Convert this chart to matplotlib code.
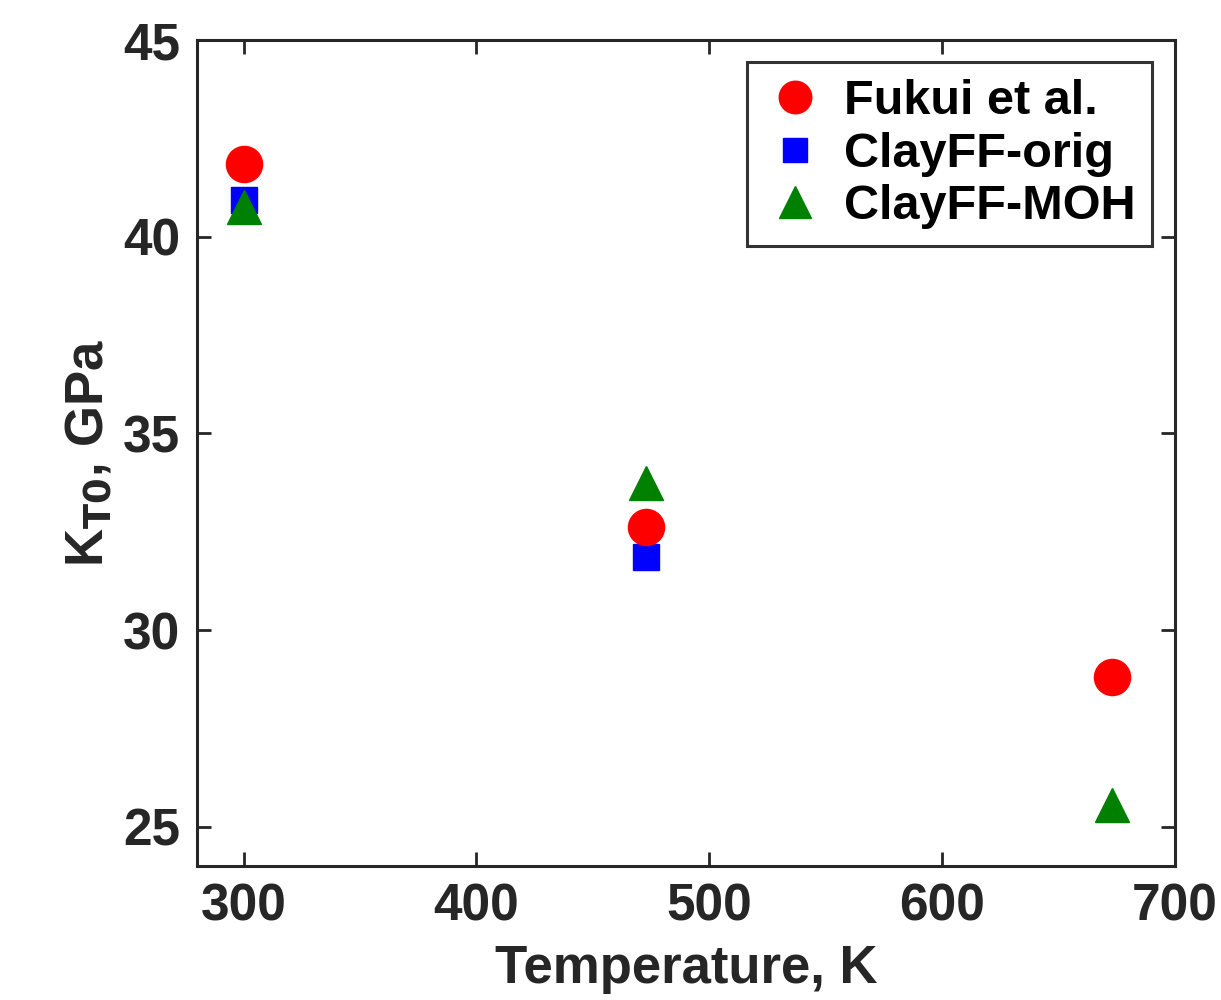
import matplotlib
matplotlib.use("Agg")
import matplotlib.pyplot as plt

plt.rcParams['font.family'] = ['Liberation Sans', 'DejaVu Sans']
plt.rcParams['font.weight'] = 'bold'

# Bulk modulus K_T0 (GPa) versus temperature (K)
temp_fukui = [300, 473, 673]
k_fukui = [41.85, 32.62, 28.8]

temp_orig = [300, 473]
k_orig = [40.92, 31.85]

temp_moh = [300, 473, 673]
k_moh = [40.75, 33.75, 25.55]

fig = plt.figure(figsize=(12.21, 10.0), dpi=100)
ax = fig.add_axes([0.1613, 0.134, 0.8010, 0.826])

ax.plot(temp_orig, k_orig, linestyle='none', marker='s', markersize=19,
        color='#0000ff', markeredgecolor='#0000ff', label='ClayFF-orig', zorder=3)
ax.plot(temp_moh, k_moh, linestyle='none', marker='^', markersize=25,
        color='#008000', markeredgecolor='#008000', label='ClayFF-MOH', zorder=4)
ax.plot(temp_fukui, k_fukui, linestyle='none', marker='o', markersize=26,
        color='#ff0000', markeredgecolor='#ff0000', label='Fukui et al.', zorder=5)

ax.set_xlim(280, 700)
ax.set_ylim(24, 45)
ax.set_xticks([300, 400, 500, 600, 700])
ax.set_yticks([25, 30, 35, 40, 45])

ax.tick_params(direction='in', length=10, width=2, top=True, right=True,
               labelsize=37, colors='#262626', pad=12)
for lbl in ax.get_xticklabels() + ax.get_yticklabels():
    lbl.set_fontweight('bold')
for sp in ax.spines.values():
    sp.set_linewidth(2.2)
    sp.set_color('#262626')

ax.set_xlabel('Temperature, K', fontsize=38, fontweight='bold', color='#262626', labelpad=9)
ax.set_ylabel(r'K$_{\mathbf{T0}}$, GPa', fontsize=38, fontweight='bold', color='#262626', labelpad=6)

handles, labels = ax.get_legend_handles_labels()
order = [2, 0, 1]
leg = ax.legend([handles[i] for i in order], [labels[i] for i in order],
                loc='upper right', fontsize=35, frameon=True, fancybox=False,
                edgecolor='#000000', handletextpad=0.35, borderpad=0.35,
                labelspacing=0.15, handlelength=1.3, borderaxespad=0,
                bbox_to_anchor=(0.977, 0.973), markerscale=0.9)
leg.get_frame().set_linewidth(2.2)
for t in leg.get_texts():
    t.set_fontweight('bold')

fig.savefig('out.png', dpi=100, facecolor='white')
